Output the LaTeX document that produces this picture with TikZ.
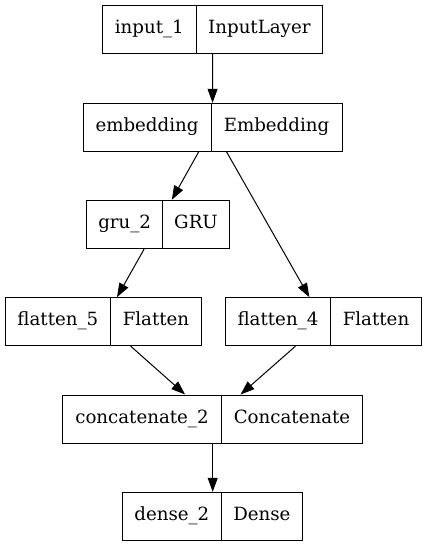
\documentclass[tikz,border=0pt]{standalone}
\usepackage{fontspec}
\setmainfont{DejaVu Serif}
\usetikzlibrary{arrows.meta}
\tikzset{
  box/.style={draw=black, line width=1pt, rectangle, inner sep=0pt},
  divline/.style={draw=black, line width=1pt},
  lbl/.style={inner sep=0pt, font=\fontsize{18.2}{21}\selectfont},
  edge/.style={draw=black, line width=1pt, -{Triangle[length=14pt,width=10pt]}}
}
\newcommand\mylayer[8]{%
  \node[box, minimum width={#3-#2}, minimum height={#6-#5}] (#1) at ({(#2+#3)/2},{(#5+#6)/2}) {};
  \coordinate (#1dt) at (#4,#5);
  \coordinate (#1db) at (#4,#6);
  \draw[divline] (#1dt) -- (#1db);
  \node[lbl] (#1l) at ({(#2+#4)/2},{(#5+#6)/2}) {\strut #7};
  \node[lbl] (#1r) at ({(#4+#3)/2},{(#5+#6)/2}) {\strut #8};
}
\begin{document}
\begin{tikzpicture}[x=1pt,y=-1pt]
\useasboundingbox (0,0) rectangle (427,547);
\mylayer{in}{102.7}{322.7}{196}{5.7}{53.7}{input\_1}{InputLayer}
\mylayer{emb}{83}{342}{211}{103.3}{151}{embedding}{Embedding}
\mylayer{gru}{86.7}{229.3}{162.7}{200.3}{248.7}{gru\_2}{GRU}
\mylayer{ffive}{5}{201.3}{110.7}{297.7}{345.7}{flatten\_5}{Flatten}
\mylayer{ffour}{225.3}{421.3}{330.7}{297.7}{345.7}{flatten\_4}{Flatten}
\mylayer{cat}{62.7}{362.7}{221.3}{395}{443}{concatenate\_2}{Concatenate}
\mylayer{den}{122.7}{302.7}{221}{492.3}{540.7}{dense\_2}{Dense}
\draw[edge] (in) -- (emb);
\draw[edge] (emb) -- (gru);
\draw[edge] (emb) -- (ffour);
\draw[edge] (gru) -- (ffive);
\draw[edge] (ffive) -- (cat);
\draw[edge] (ffour) -- (cat);
\draw[edge] (cat) -- (den);
\end{tikzpicture}
\end{document}
